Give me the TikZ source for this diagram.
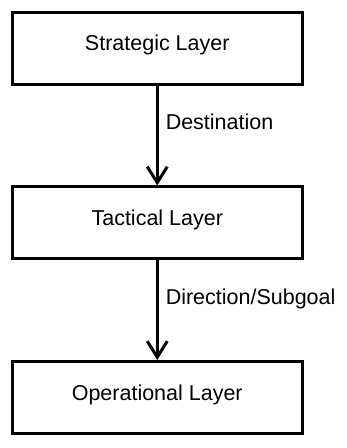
\documentclass[tikz,border=0pt]{standalone}
\usepackage{fontspec}
\setmainfont{Liberation Sans}
\usetikzlibrary{arrows.meta}
\begin{document}
\begin{tikzpicture}[x=1pt,y=1pt,
		layer/.style={draw,line width=3pt,minimum width=289.5pt,minimum height=72pt,
			text height=15.5pt,text depth=10.5pt,inner sep=0pt,font=\fontsize{21.5}{25}\selectfont},
		flow/.style={line width=3pt,-{Straight Barb[length=16pt,width=20pt]}},
		flowlabel/.style={anchor=base west,inner sep=0pt,xshift=7pt,font=\fontsize{21.5}{25}\selectfont}]
		\useasboundingbox (0,0) rectangle (347,448);
		\node[layer] (strategic) at (157.25,399.5) {Strategic Layer};
		\node[layer] (tactical) at (157.25,225) {Tactical Layer};
		\node[layer] (operational) at (157.25,50.5) {Operational Layer};
		\draw[flow] (strategic) -- node[flowlabel,pos=.44]{Destination} (tactical);
		\draw[flow] (tactical) -- node[flowlabel,pos=.44]{Direction/Subgoal} (operational);
	\end{tikzpicture}
\end{document}
